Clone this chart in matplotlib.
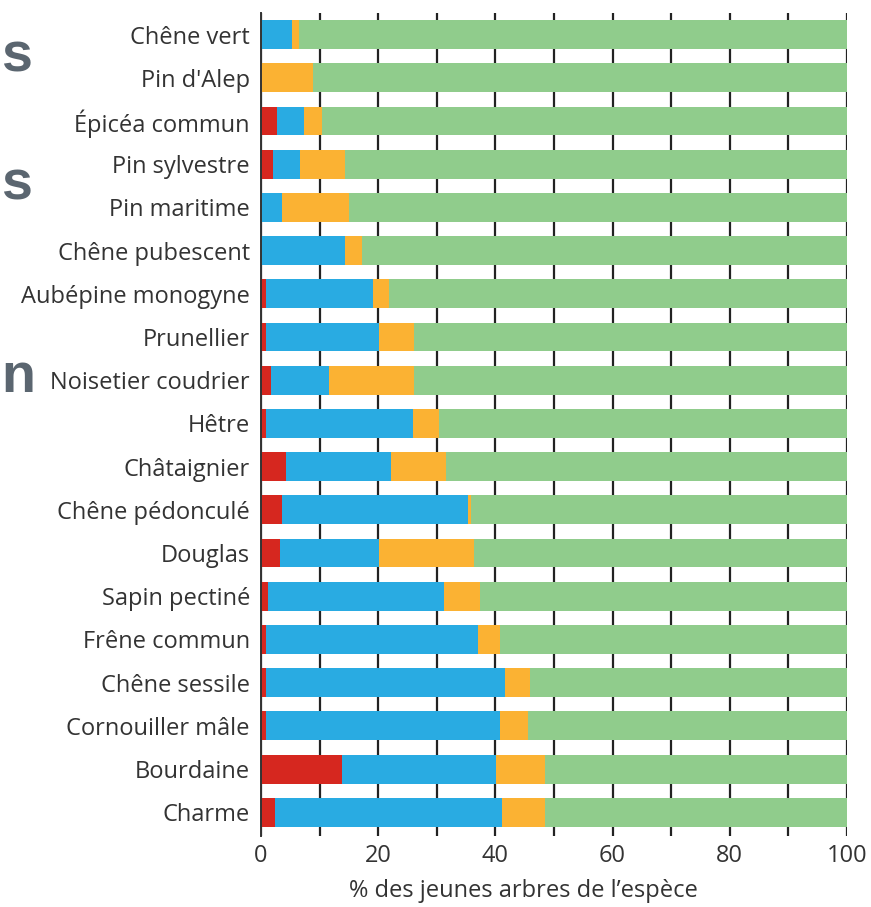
import matplotlib.pyplot as plt
import numpy as np

# Espèces (du haut vers le bas)
especes = ["Chêne vert", "Pin d'Alep", "Épicéa commun", "Pin sylvestre", "Pin maritime",
           "Chêne pubescent", "Aubépine monogyne", "Prunellier", "Noisetier coudrier",
           "Hêtre", "Châtaignier", "Chêne pédonculé", "Douglas", "Sapin pectiné",
           "Frêne commun", "Chêne sessile", "Cornouiller mâle", "Bourdaine", "Charme"]

# % des jeunes arbres de l'espèce par catégorie
rouge = [0, 0, 2.8, 2.0, 0, 0, 0.9, 0.9, 1.7, 0.9, 4.3, 3.5, 3.2, 1.2, 0.9, 0.8, 0.8, 13.8, 2.4]
bleu = [5.3, 0, 4.5, 4.6, 3.5, 14.3, 18.2, 19.2, 9.9, 25.0, 17.8, 31.9, 16.9, 30.1, 36.2, 40.9, 40.0, 26.3, 38.8]
jaune = [1.2, 8.9, 3.1, 7.8, 11.6, 2.9, 2.7, 6.0, 14.5, 4.4, 9.5, 0.4, 16.2, 6.1, 3.7, 4.2, 4.8, 8.4, 7.3]

rouge = np.array(rouge)
bleu = np.array(bleu)
jaune = np.array(jaune)
vert = 100 - rouge - bleu - jaune

couleurs = ["#d6271f", "#29abe2", "#fbb233", "#90cc8c"]

plt.rcParams['font.family'] = ['Open Sans', 'DejaVu Sans']

fig = plt.figure(figsize=(8.71, 9.07), dpi=100)
ax = fig.add_axes([261 / 871, 1 - 836 / 907, (847 - 261) / 871, (836 - 13) / 907])

y = np.arange(len(especes))
h = 0.67
gauche = np.zeros(len(especes))
for serie, c in zip([rouge, bleu, jaune, vert], couleurs):
    ax.barh(y, serie, left=gauche, height=h, color=c, zorder=3)
    gauche = gauche + serie

ax.set_xlim(0, 100)
ax.set_ylim(18.55, -0.5)
ax.set_yticks(y)
ax.set_yticklabels(especes, fontsize=17, color="#333333")
ax.set_xticks(np.arange(0, 101, 20))
ax.set_xticks(np.arange(10, 100, 20), minor=True)
ax.tick_params(axis='x', which='both', length=0, labelsize=17, colors="#333333", pad=6)
ax.tick_params(axis='y', length=0, pad=8)
ax.grid(axis='x', which='both', color="#222222", linewidth=1.6, zorder=1)
ax.set_xlabel("% des jeunes arbres de l’espèce", fontsize=17, color="#333333")
ax.xaxis.set_label_coords(0.447, -0.052)

for s in ['top', 'right', 'bottom']:
    ax.spines[s].set_visible(False)
ax.spines['left'].set_color("#333333")
ax.spines['left'].set_linewidth(1.4)
ax.spines['left'].set_zorder(4)

# fragments de titre coupés à gauche
for lettre, yb in [("s", 72), ("s", 200), ("n", 392)]:
    fig.text(1 / 871, 1 - yb / 907, lettre, ha='left', va='baseline',
             fontsize=40, fontweight='bold', color="#5b6670", family='Liberation Sans')

fig.savefig("out.png", dpi=100)
